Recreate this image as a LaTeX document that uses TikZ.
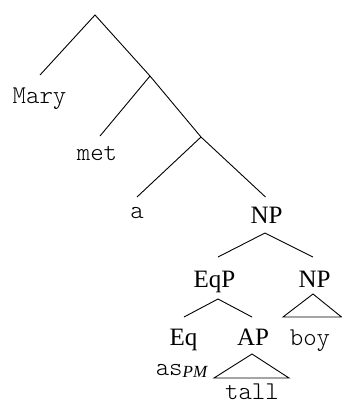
\documentclass[tikz,border=0pt]{standalone}
\usepackage{fontspec}
\setmainfont{Liberation Serif}
\setmonofont{Latin Modern Mono Light}
\begin{document}
\begin{tikzpicture}[x=0.5pt,y=-0.5pt,
  lbl/.style={anchor=base,inner sep=0pt,font=\fontsize{12.5}{14}\selectfont},
  wrd/.style={anchor=base,inner sep=0pt,font=\fontsize{12.8}{14}\selectfont\ttfamily},
  edge/.style={line width=0.45pt}]
\useasboundingbox (0,0) rectangle (342,403);
% coordinates of tree points
\coordinate (r) at (95,15);
\coordinate (mL) at (40,75);
\coordinate (n1) at (150,76);
\coordinate (meL) at (100,136);
\coordinate (n2) at (201,137);
\coordinate (aL) at (137,197);
\coordinate (npT) at (265.5,197);
% labels
\node[wrd] (mary) at (39.5,103) {Mary};
\node[wrd] (met) at (97,160) {met};
\node[wrd] (a) at (137,218) {a};
\node[lbl] (np1) at (266.5,223) {NP};
\node[lbl] (eqp) at (214.5,287) {EqP};
\node[lbl] (np2) at (314.5,287) {NP};
\node[lbl] (eq) at (183.5,345) {Eq};
\node[lbl] (ap) at (253,345) {AP};
\node[wrd] (boy) at (310,345) {boy};
\node[anchor=base,inner sep=0pt] (aspm) at (181.5,375) {\fontsize{12.8}{14}\selectfont\ttfamily as\raisebox{-1.2pt}{\rmfamily\itshape\fontsize{8.5}{10}\selectfont PM}};
\node[wrd] (tall) at (252,399.5) {tall};
% branch points
\coordinate (np1b) at (265,233);
\coordinate (np1l) at (218,257);
\coordinate (np1r) at (313,257);
\coordinate (eqpb) at (218,299);
\coordinate (eqpl) at (184,317);
\coordinate (eqpr) at (252,317);
\coordinate (np2a) at (313,294);
\coordinate (np2l) at (283,317);
\coordinate (np2r) at (341.5,317);
\coordinate (apa) at (252,354);
\coordinate (apl) at (214,378);
\coordinate (apr) at (289,378);
% edges
\draw[edge] (mL) -- (r) -- (n1) -- (n2) -- (npT);
\draw[edge] (n1) -- (meL);
\draw[edge] (n2) -- (aL);
\draw[edge] (np1l) -- (np1b) -- (np1r);
\draw[edge] (eqpl) -- (eqpb) -- (eqpr);
\draw[edge] (np2a) -- (np2l) -- (np2r) -- cycle;
\draw[edge] (apa) -- (apl) -- (apr) -- cycle;
\end{tikzpicture}
\end{document}
